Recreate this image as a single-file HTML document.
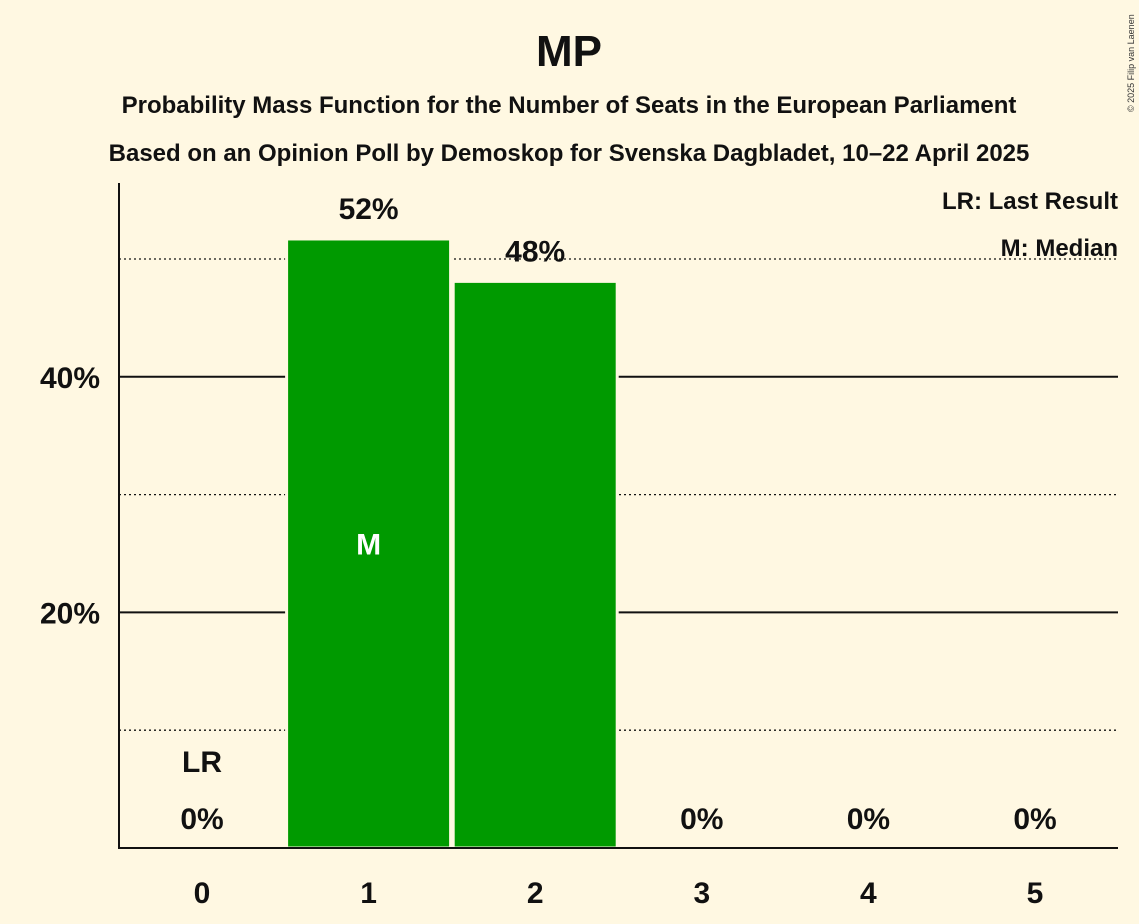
<!DOCTYPE html>
<html><head><meta charset="utf-8"><style>
body{margin:0;background:#fff8e2;}
svg{display:block;font-family:"Liberation Sans",sans-serif;}
</style></head><body>
<svg id="chart" width="1139" height="924">
<rect width="1139" height="924" fill="#fff8e2"/>
<text x="569" y="66" text-anchor="middle" font-size="44" font-weight="bold" fill="#111">MP</text>
<text x="569" y="113" text-anchor="middle" font-size="24" font-weight="bold" fill="#111">Probability Mass Function for the Number of Seats in the European Parliament</text>
<text x="569" y="161" text-anchor="middle" font-size="24" font-weight="bold" fill="#111">Based on an Opinion Poll by Demoskop for Svenska Dagbladet, 10–22 April 2025</text>
<text x="1134" y="112" font-size="9" fill="#333" transform="rotate(-90 1134 112)">© 2025 Filip van Laenen</text>
<text x="1118" y="209" text-anchor="end" font-size="24" font-weight="bold" fill="#111">LR: Last Result</text>
<text x="1118" y="256" text-anchor="end" font-size="24" font-weight="bold" fill="#111">M: Median</text>
<g id="grid"></g>
<g id="bars"></g>
<g id="labels"></g>
<line x1="119" y1="183" x2="119" y2="848" stroke="#111" stroke-width="2"/>
<line x1="118" y1="848" x2="1118" y2="848" stroke="#111" stroke-width="2"/>
</svg>
<script>
const categories=[0,1,2,3,4,5];
const values=[0,51.7,48.1,0,0,0];
const valueLabels=["0%","52%","48%","0%","0%","0%"];
const yTicks=[20,40];
const yTickLabels=["20%","40%"];
const dottedTicks=[10,30,50];
const lastResult=0;
const median=1;
const ns="http://www.w3.org/2000/svg";
const x=i=>202+i*166.6;
const y=v=>848-v*11.78;
function mk(tag,attrs,parent){const e=document.createElementNS(ns,tag);for(const k in attrs)e.setAttribute(k,attrs[k]);parent.appendChild(e);return e;}
const grid=document.getElementById('grid'),bars=document.getElementById('bars'),labels=document.getElementById('labels');
yTicks.forEach((t,i)=>{
 const l=mk('line',{x1:119,x2:1118,y1:y(t),y2:y(t),stroke:'#111','stroke-width':2},grid);
 
 
 const tx=mk('text',{x:100,y:y(t)+11,'text-anchor':'end','font-size':30,'font-weight':'bold',fill:'#111'},grid);
 tx.textContent=yTickLabels[i];
 
 
});
dottedTicks.forEach(t=>{
 const l=mk('line',{x1:119,x2:1118,y1:y(t),y2:y(t),stroke:'#111','stroke-width':1.3,'stroke-dasharray':'2,3'},grid);
 
 
});
categories.forEach((c,i)=>{
 const cx=x(i);
 if(values[i]>0){
  const r=mk('rect',{x:cx-82,y:y(values[i]),width:164,height:848-y(values[i]),fill:'#009a00',stroke:'#fff8e2','stroke-width':3},bars);
  
  
 }
 const vl=mk('text',{x:cx,y:values[i]>0?y(values[i])-20:829,'text-anchor':'middle','font-size':30,'font-weight':'bold',fill:'#111'},labels);
 vl.textContent=valueLabels[i];
 
 
 const xl=mk('text',{x:cx,y:903,'text-anchor':'middle','font-size':30,'font-weight':'bold',fill:'#111'},labels);
 xl.textContent=c;
 
 
 if(c===lastResult){
  const lr=mk('text',{x:cx,y:772,'text-anchor':'middle','font-size':30,'font-weight':'bold',fill:'#111'},labels);
  lr.textContent='LR';
  
  
 }
 if(c===median){
  const m=mk('text',{x:cx,y:y(values[i]/2)+11,'text-anchor':'middle','font-size':30,'font-weight':'bold',fill:'#fff'},labels);
  m.textContent='M';
  
  
 }
});
</script>
</body></html>
